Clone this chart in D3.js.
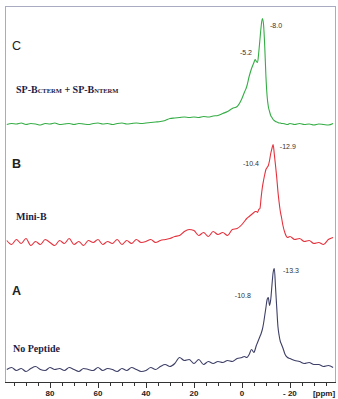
<!DOCTYPE html>
<html>
<head>
<meta charset="utf-8">
<script src="https://cdn.jsdelivr.net/npm/d3@7"></script>
<style>
  html, body { margin: 0; padding: 0; background: #fff; }
  svg { display: block; }
</style>
</head>
<body>
<div id="chart"></div>
<script>
// chemical shift grid (ppm), shared by all three spectra
const ppm = [
  98, 96, 94, 92, 90, 88, 86, 84, 82, 80, 78, 76, 74, 72, 70, 68, 66, 64, 62, 60,
  58, 56, 54, 52, 50, 48, 46, 44, 42,
  40, 38, 36, 34, 32, 30, 28, 26, 24, 22, 20, 18, 16, 14, 12, 10, 8, 6, 4, 2, 0,
  -1, -2, -3, -4, -5,
  -5.5, -6, -6.5, -7, -7.5, -8, -8.5, -9, -9.5, -10, -10.5, -11, -11.5, -12,
  -12.5, -13, -13.5, -14, -14.5, -15, -15.5, -16, -16.5, -17,
  -18, -19, -20,
  -22, -24, -26, -28, -30, -32, -34, -36, -38
]

// intensities (a.u.)
const specC = [
  0, 1, 0.5, 1.5, 0, 1, 0.5, -0.5, 1, 0.5, 1.5, 0, 0.5, 1, 0, 1, 0.5, 0, 1, 1.5,
  0.5, 1, 0, 1, 1.5, 0.5, 1, 1.5, 1,
  1.5, 2, 2.5, 3, 4, 6, 6.5, 7, 7.5, 7, 7.5, 7, 8, 7.5, 8.5, 9, 11, 13, 16, 18, 26,
  32, 38, 48, 56, 62,
  65, 63, 62, 72, 85, 98, 106, 100, 78, 48, 28, 18, 13, 9,
  7, 5, 4, 3, 2.5, 2, 1.5, 1.5, 1, 1,
  0.5, 0, 1,
  0, 1, 0, 0.5, -0.5, 0.5, 0, -0.5, 1
]
const specB = [
  2, -2, 3, -1, 4, -3, 1, -2, 3, 0, -3, 2, -1, 4, -2, 1, -3, 2, 0, 3,
  -2, 1, -1, 3, -2, 2, -1, 3, 0,
  1, 3, 0, 2, 3, 4, 6, 7, 11, 13, 12, 7, 10, 6, 11, 8, 10, 7, 13, 14, 18,
  21, 24, 26, 28, 30,
  31, 31, 30, 33, 34, 45, 55, 62, 68, 73, 75, 77, 82, 89,
  94, 98, 88, 77, 65, 51, 40, 31, 25, 18,
  9, 5, 6,
  3, 4, 1, 2, -1, 0, -2, 3, 5
]
const specA = [
  0, 2, -1, 1, -2, 1, 3, 0, -1, 2, 0, 1, -1, 2, 0, -2, 1, 0, -1, 2,
  -1, 1, 0, -2, 1, -1, 2, 0, -2,
  -1, 2, 0, 3, 5, 3, 6, 12, 9, 10, 6, 10, 5, 8, 6, 8, 7, 9, 8, 11, 12,
  13, 12, 15, 20, 17,
  20, 24, 27, 30, 33, 36, 40, 46, 54, 62, 70, 72, 64, 70,
  84, 97, 101, 82, 62, 43, 34, 28, 25, 22,
  15, 12, 11,
  9, 8, 6, 7, 5, 5, 3, 4, 2
]

const panelLetters = ['C', 'B', 'A']
const sampleNames = [
  [['SP-B', 10], ['CTERM', 6.5], [' + SP-B', 10], ['NTERM', 6.5]],
  [['Mini-B', 10]],
  [['No Peptide', 10]]
]
const spectra = [specC, specB, specA]
const colors = ['#34ad45', '#e5313c', '#3d3f66']

// peak labels: text, anchor ppm, anchor level, side
const peakLabels = [
  [['-8.0', -11.7, 96.5, 'start'], ['-5.2', -4.2, 69.5, 'end']],
  [['-12.9', -15.8, 93.5, 'start'], ['-10.4', -7.1, 76.5, 'end']],
  [['-13.3', -17.1, 96.5, 'start'], ['-10.8', -3.7, 71.5, 'end']]
]

const majorTicks = [80, 60, 40, 20, 0, -20]
const majorTickLabels = ['80', '60', '40', '20', '0', '- 20']
const minorTicks = [95, 90, 85, 75, 70, 65, 55, 50, 45, 35, 30, 25, 15, 10, 5, -5, -10, -15, -25, -30, -35]

const width = 338
const height = 399
const frame = { left: 5, right: 336, top: 6, bottom: 382 }
const baselines = [124.5, 242.5, 369.5]

const svg = d3.select('#chart').append('svg')
  .attr('width', width)
  .attr('height', height)

const x = d3.scaleLinear().domain([98.75, -39.2]).range([frame.left, frame.right])

svg.append('clipPath').attr('id', 'clip')
  .append('rect')
  .attr('x', frame.left).attr('y', frame.top)
  .attr('width', frame.right - frame.left).attr('height', frame.bottom - frame.top)

// frame
svg.append('rect')
  .attr('x', frame.left + 0.5).attr('y', frame.top + 0.5)
  .attr('width', frame.right - frame.left - 1).attr('height', frame.bottom - frame.top)
  .attr('fill', 'none')
  .attr('stroke', '#a9abc0')
  .attr('stroke-width', 1)

spectra.forEach((spec, i) => {
  const y = d3.scaleLinear().domain([0, 100]).range([baselines[i], baselines[i] - 100])
  const line = d3.line()
    .x((d, j) => x(ppm[j]))
    .y(d => y(d))
    .curve(d3.curveMonotoneX)

  svg.append('path')
    .datum(spec)
    .attr('clip-path', 'url(#clip)')
    .attr('d', line)
    .attr('fill', 'none')
    .attr('stroke', colors[i])
    .attr('stroke-width', 1.1)

  // peak labels
  svg.selectAll('.pk' + i)
    .data(peakLabels[i]).enter().append('text')
    .attr('x', d => x(d[1]))
    .attr('y', d => y(d[2]))
    .attr('text-anchor', d => d[3])
    .attr('font-family', 'Liberation Sans, Arial, sans-serif')
    .attr('font-size', 7)
    .attr('fill', '#333')
    .text(d => d[0])

  // panel letter
  svg.append('text')
    .attr('x', 12)
    .attr('y', y(75))
    .attr('font-family', 'Liberation Sans, Arial, sans-serif')
    .attr('font-size', 12.5)
    .attr('font-weight', i === 0 ? 'normal' : 'bold')
    .attr('fill', '#222')
    .text(panelLetters[i])

  // sample name
  const t = svg.append('text')
    .attr('x', i === 2 ? 13 : 16)
    .attr('y', y(i === 0 ? 32 : (i === 1 ? 23 : 18)))
    .attr('font-family', 'Liberation Serif, Times New Roman, serif')
    .attr('font-weight', 'bold')
    .attr('fill', '#1c1c44')
  t.selectAll('tspan')
    .data(sampleNames[i]).enter().append('tspan')
    .attr('font-size', d => d[1])
    .text(d => d[0])
})

// x axis
svg.append('line')
  .attr('x1', frame.left).attr('x2', frame.right)
  .attr('y1', frame.bottom + 0.5).attr('y2', frame.bottom + 0.5)
  .attr('stroke', '#333').attr('stroke-width', 1)

svg.selectAll('.minor')
  .data(minorTicks).enter().append('line')
  .attr('x1', d => Math.round(x(d)) + 0.5).attr('x2', d => Math.round(x(d)) + 0.5)
  .attr('y1', frame.bottom).attr('y2', frame.bottom + 4)
  .attr('stroke', '#333')

svg.selectAll('.major')
  .data(majorTicks).enter().append('line')
  .attr('x1', d => Math.round(x(d)) + 0.5).attr('x2', d => Math.round(x(d)) + 0.5)
  .attr('y1', frame.bottom).attr('y2', frame.bottom + 6)
  .attr('stroke', '#333')

svg.selectAll('.tlabel')
  .data(majorTicks).enter().append('text')
  .attr('x', d => x(d))
  .attr('y', 396)
  .attr('text-anchor', 'middle')
  .attr('font-family', 'Liberation Sans, Arial, sans-serif')
  .attr('font-size', 8)
  .attr('font-weight', 'bold')
  .attr('fill', '#222')
  .text((d, i) => majorTickLabels[i])

svg.append('text')
  .attr('x', 324)
  .attr('y', 396)
  .attr('text-anchor', 'middle')
  .attr('font-family', 'Liberation Sans, Arial, sans-serif')
  .attr('font-size', 8)
  .attr('font-weight', 'bold')
  .attr('fill', '#222')
  .text('[ppm]')
</script>
</body>
</html>
